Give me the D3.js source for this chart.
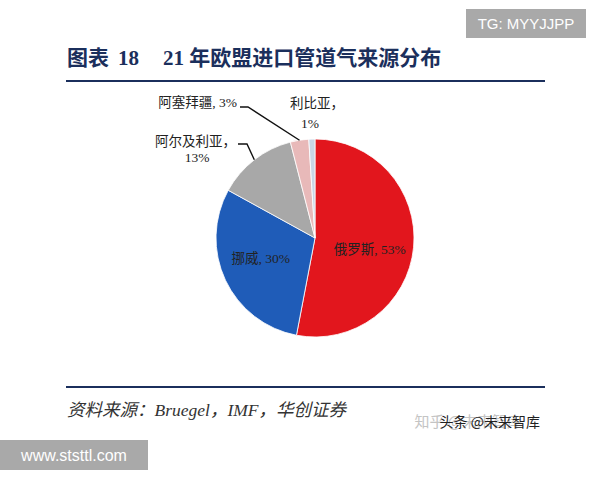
<!DOCTYPE html>
<html><head><meta charset="utf-8">
<script src="https://cdn.jsdelivr.net/npm/d3@7"></script>
<style>body{margin:0;background:#fff}svg{display:block}</style>
</head><body>
<svg id="c" width="600" height="480"></svg>
<script>
const categories = ["俄罗斯", "挪威", "阿尔及利亚", "阿塞拜疆", "利比亚"];
const values = [53, 30, 13, 3, 1];
const colors = ["#e2161d", "#1f5cb8", "#a8a8a8", "#e8b9b9", "#c9d6e6"];
const titleParts = ["图表", "18", "21 年欧盟进口管道气来源分布"];
const source = "资料来源：Bruegel，IMF，华创证券";

const svg = d3.select("#c");
const navy = "#1b2f5c";
const serif = "'Liberation Serif','DejaVu Serif','Noto Sans CJK SC',serif";

// watermark boxes
svg.append("rect").attr("x",466).attr("y",9).attr("width",120).attr("height",29).attr("fill","#a9a9a9");
svg.append("text").attr("x",526).attr("y",29).attr("text-anchor","middle").attr("fill","#fff")
  .attr("font-family","'Liberation Sans',Arial,sans-serif").attr("font-size",15).text("TG: MYYJJPP");

// title
const tt = svg.append("text").attr("y",65).attr("fill",navy).attr("font-weight","bold")
  .attr("font-family",serif).attr("font-size",21);
[67, 118, 163].forEach((x,i)=> tt.append("tspan").attr("x",x).text(titleParts[i]));
svg.append("line").attr("x1",66).attr("x2",545).attr("y1",81).attr("y2",81).attr("stroke",navy).attr("stroke-width",2.2);

// pie
const cx = 315, cy = 238, R = 99;
const g = svg.append("g").attr("transform",`translate(${cx},${cy})`);
const pie = d3.pie().sort(null).value(d=>d)(values);
const arc = d3.arc().innerRadius(0).outerRadius(R);
g.selectAll("path").data(pie).join("path").attr("d",arc)
  .attr("fill",(d,i)=>colors[i]).attr("stroke","#fff").attr("stroke-width",0.8);

const lblFont = serif;
function pt(a, r){ return [Math.sin(a)*r, -Math.cos(a)*r]; }
const mid = d => (d.startAngle + d.endAngle)/2;

// inside labels
const inside = [{i:0, r:55, dy:8}, {i:1, r:60, dy:-4}];
inside.forEach(o=>{
  const p = pt(mid(pie[o.i]), o.r);
  g.append("text").attr("x",p[0]).attr("y",p[1]+o.dy).attr("text-anchor","middle")
    .attr("dominant-baseline","middle").attr("font-family",lblFont).attr("font-size",13.5)
    .attr("fill","#222").text(`${categories[o.i]}, ${values[o.i]}%`);
});

// outside labels with leader lines
// Azerbaijan
(function(){
  const d = pie[3]; const p = pt(mid(d), R);
  const elbow = [248-cx, 107-cy];
  g.append("polyline").attr("points",[p, elbow, [elbow[0]-8, elbow[1]]].map(q=>q.join(",")).join(" "))
    .attr("fill","none").attr("stroke","#111").attr("stroke-width",1.4);
  g.append("text").attr("x",elbow[0]-11).attr("y",elbow[1]-3).attr("text-anchor","end")
    .attr("dominant-baseline","middle").attr("font-family",lblFont).attr("font-size",13.5).attr("fill","#222")
    .text(`${categories[3]}, ${values[3]}%`);
})();
// Algeria
(function(){
  const d = pie[2]; const p = pt(mid(d), R);
  const elbow = [247-cx, 144-cy];
  g.append("polyline").attr("points",[p, elbow, [elbow[0]-9, elbow[1]]].map(q=>q.join(",")).join(" "))
    .attr("fill","none").attr("stroke","#111").attr("stroke-width",1.4);
  g.append("text").attr("x",elbow[0]-11).attr("y",elbow[1]-1).attr("text-anchor","end")
    .attr("dominant-baseline","middle").attr("font-family",lblFont).attr("font-size",13.5).attr("fill","#222")
    .text(`${categories[2]}，`);
  g.append("text").attr("x",elbow[0]-50).attr("y",elbow[1]+15).attr("text-anchor","middle")
    .attr("dominant-baseline","middle").attr("font-family",lblFont).attr("font-size",13.5).attr("fill","#222")
    .text(`${values[2]}%`);
})();
// Libya
(function(){
  const d = pie[4]; const p = pt(mid(d), R);
  g.append("text").attr("x",p[0]+5).attr("y",p[1]-34).attr("text-anchor","middle")
    .attr("dominant-baseline","middle").attr("font-family",lblFont).attr("font-size",13.5).attr("fill","#222")
    .text(`${categories[4]}，`);
  g.append("text").attr("x",p[0]-2).attr("y",p[1]-14).attr("text-anchor","middle")
    .attr("dominant-baseline","middle").attr("font-family",lblFont).attr("font-size",13.5).attr("fill","#222")
    .text(`${values[4]}%`);
})();

// bottom rule & source
svg.append("line").attr("x1",66).attr("x2",545).attr("y1",387).attr("y2",387).attr("stroke",navy).attr("stroke-width",2);
svg.append("text").attr("x",67).attr("y",416).attr("font-family",serif).attr("font-style","italic")
  .attr("font-size",17.5).attr("fill","#333").text(source);
svg.append("text").attr("x",522).attr("y",427).attr("text-anchor","end").attr("font-family","'Noto Sans CJK SC',sans-serif")
  .attr("font-size",15).attr("fill","#c4c4c4").text("知乎 @未来智库");
svg.append("text").attr("x",540).attr("y",427).attr("text-anchor","end").attr("font-family","'Noto Sans CJK SC',sans-serif")
  .attr("font-size",14).attr("fill","#222").text("头条 @未来智库");

svg.append("rect").attr("x",0).attr("y",440).attr("width",148).attr("height",30).attr("fill","#a9a9a9");
svg.append("text").attr("x",74).attr("y",461).attr("text-anchor","middle").attr("fill","#fff")
  .attr("font-family","'Liberation Sans',Arial,sans-serif").attr("font-size",16).text("www.ststtl.com");
</script>
</body></html>
